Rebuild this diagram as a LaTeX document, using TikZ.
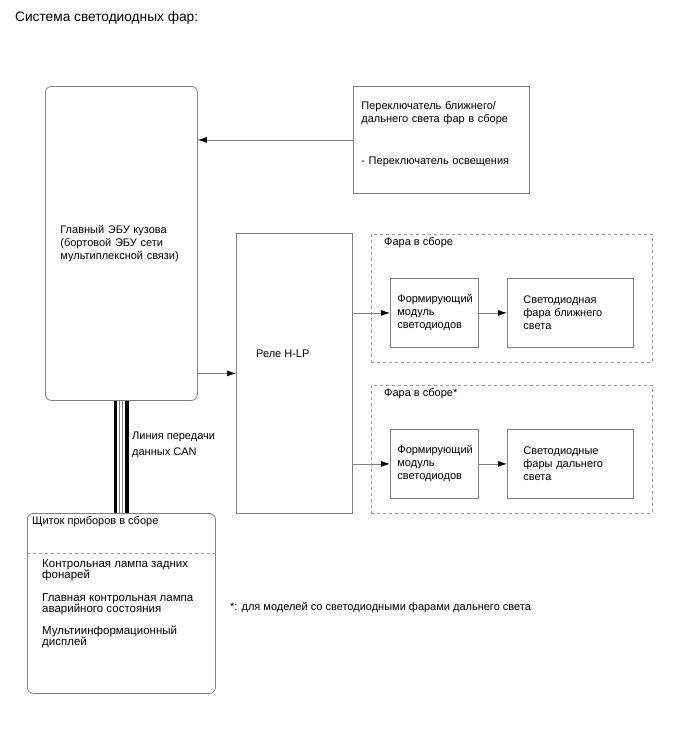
\documentclass[tikz,border=0pt]{standalone}
\usepackage{fontspec}
\setmainfont{Liberation Sans}
\usetikzlibrary{arrows.meta,positioning}
\definecolor{BoxGrey}{RGB}{128,128,128}
\definecolor{DashGrey}{RGB}{150,150,150}

\begin{document}
\begin{tikzpicture}[x=1pt,y=-1pt,
    txt/.style={font=\fontsize{11}{13}\selectfont, align=left, inner sep=0pt},
    blk/.style={draw=BoxGrey, line width=0.8pt, txt, anchor=north west},
    grp/.style={draw=DashGrey, dashed, line width=0.8pt, anchor=north west},
    sig/.style={draw=BoxGrey, line width=0.8pt, -{Latex[length=9pt,width=6pt,color=black]}},
    canwire/.style={draw=black, line width=3.5pt},
    canedge/.style={draw=BoxGrey, line width=0.6pt}]
\useasboundingbox (0,0) rectangle (688,755);
                \node[txt, anchor=west, font=\fontsize{13.7}{16}\selectfont] (title) at (15,18) {Система светодиодных фар:};
                \node[blk, rounded corners=6pt, minimum width=152, minimum height=314, text width=122, inner xsep=15] (ecu) at (45,86) {Главный ЭБУ кузова\\(бортовой ЭБУ сети\\мультиплексной связи)};
                \node[blk, minimum width=176, minimum height=107, text width=160, inner xsep=8] (sw) at (353,86) {Переключатель ближнего/\\дальнего света фар в сборе\\[29pt]- Переключатель освещения\\ \mbox{}};
                \node[blk, minimum width=116, minimum height=280] (rel) at (236,233) {};
                \node[txt, anchor=west] (reltxt) at ([shift={(20,-20)}]rel.west) {Реле H-LP};
                \node[grp, minimum width=281, minimum height=128] (hl1) at (371,234) {};
                \node[txt, anchor=north west] (hl1lab) at ([shift={(13,3)}]hl1.north west) {Фара в сборе};
                \node[grp, minimum width=281, minimum height=128] (hl2) at (371,385) {};
                \node[txt, anchor=north west] (hl2lab) at ([shift={(13,3)}]hl2.north west) {Фара в сборе*};
                \node[blk, minimum width=88, minimum height=69, text width=74, inner xsep=7] (mod1) at (390,278) {Формирующий\\модуль\\светодиодов};
                \node[blk, minimum width=126, minimum height=69, text width=94, inner xsep=16] (lamp1) at (507,278) {Светодиодная\\фара ближнего\\света};
                \node[blk, minimum width=88, minimum height=69, text width=74, inner xsep=7] (mod2) at (390,429) {Формирующий\\модуль\\светодиодов};
                \node[blk, minimum width=126, minimum height=69, text width=94, inner xsep=16] (lamp2) at (507,429) {Светодиодные\\фары дальнего\\света};
                \node[blk, rounded corners=6pt, minimum width=188, minimum height=180] (clu) at (27,513) {};
                \node[txt, anchor=north west] (clutitle) at ([shift={(5,3)}]clu.north west) {Щиток приборов в сборе};
                \node[txt, anchor=north west, font=\fontsize{11.5}{11.5}\selectfont] (cluitems) at ([shift={(15,46)}]clu.north west) {Контрольная лампа задних\\фонарей\\[11pt]Главная контрольная лампа\\аварийного состояния\\[10pt]Мультиинформационный\\дисплей};
                \node[txt, anchor=west, font=\fontsize{11}{16}\selectfont] (canlab) at (132,445) {Линия передачи\\данных CAN};
                \node[txt, anchor=west] (note) at (230,608) {*: для моделей со светодиодными фарами дальнего света};
                \draw[grp] ([yshift=-40]clu.north west) -- ([yshift=-40]clu.north east);
                \draw[canwire] ([xshift=-6]ecu.south) -- ([xshift=-6]ecu.south |- clu.north);
                \draw[canedge] ([xshift=-2.5]ecu.south) -- ([xshift=-2.5]ecu.south |- clu.north);
                \draw[canedge] ([xshift=0.5]ecu.south) -- ([xshift=0.5]ecu.south |- clu.north);
                \draw[canwire] ([xshift=5.5]ecu.south) -- ([xshift=5.5]ecu.south |- clu.north);
                \draw[sig] (sw.west) -- (sw.west -| ecu.east);
                \draw[sig] (ecu.east |- rel.west) -- (rel.west);
                \draw[sig] (rel.east |- mod1.west) -- (mod1.west);
                \draw[sig] (rel.east |- mod2.west) -- (mod2.west);
                \draw[sig] (mod1.east) -- (lamp1.west);
                \draw[sig] (mod2.east) -- (lamp2.west);
\end{tikzpicture}
\end{document}
